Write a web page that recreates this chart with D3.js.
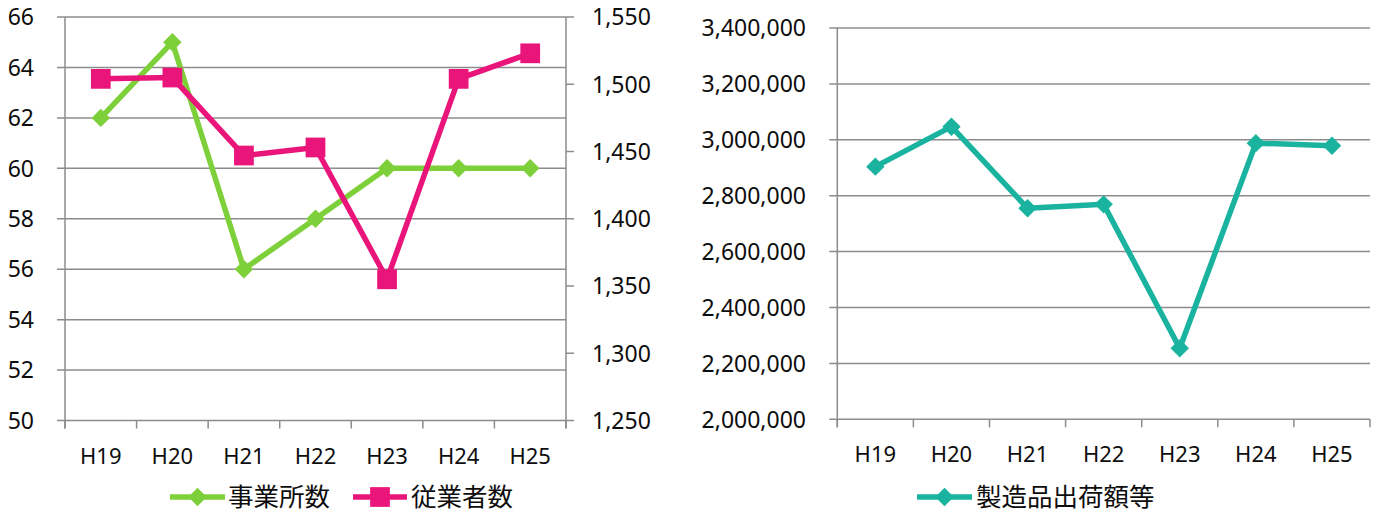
<!DOCTYPE html>
<html>
<head>
<meta charset="utf-8">
<script src="https://cdn.jsdelivr.net/npm/d3@7"></script>
<style>
  html, body { margin: 0; padding: 0; background: #ffffff; }
  svg { display: block; }
  text { font-family: "Noto Sans", "Open Sans", sans-serif; fill: #0d0d0d; }
  .cjk { font-family: "Noto Sans CJK JP", "Noto Sans", sans-serif; }
</style>
</head>
<body>
<svg id="chart" width="1381" height="518"></svg>
<script>
// ---- data ----
const categories = ["H19", "H20", "H21", "H22", "H23", "H24", "H25"];
const establishments = [62, 65, 56, 58, 60, 60, 60];            // 事業所数 (left axis)
const employees = [1504, 1505, 1447, 1453, 1355, 1504, 1523];   // 従業者数 (right axis)
const shipments = [2904000, 3047000, 2755000, 2769000, 2254000, 2988000, 2979000]; // 製造品出荷額等
const leftTicks = [50, 52, 54, 56, 58, 60, 62, 64, 66];
const rightTicks = [1250, 1300, 1350, 1400, 1450, 1500, 1550];
const shipTicks = [2000000, 2200000, 2400000, 2600000, 2800000, 3000000, 3200000, 3400000];
const seriesNames = ["事業所数", "従業者数", "製造品出荷額等"];
const colors = ["#7ED03A", "#EA157A", "#1AB39F"];

const svg = d3.select("#chart");
const gridColor = "#8c8c8c";
const fmt = d3.format(",");

function drawCategoryAxis(g, x, y0) {
  const [r0, r1] = x.range();
  const edges = categories.map(c => x(c)).concat([r1]);
  g.selectAll(".ctick").data(edges).join("line")
    .attr("x1", d => d).attr("x2", d => d)
    .attr("y1", y0).attr("y2", y0 + 8)
    .attr("stroke", gridColor).attr("stroke-width", 1.5);
  g.selectAll(".clabel").data(categories).join("text")
    .attr("x", d => x(d) + x.bandwidth() / 2)
    .attr("y", y0 + 43)
    .attr("text-anchor", "middle")
    .attr("font-size", 22)
    .text(d => d);
}

function diamond(sel, cx, cy, size, color) {
  sel.append("path")
    .attr("d", d3.symbol().type(d3.symbolSquare).size(size)())
    .attr("transform", `translate(${cx},${cy}) rotate(45)`)
    .attr("fill", color);
}
function square(sel, cx, cy, size, color) {
  sel.append("path")
    .attr("d", d3.symbol().type(d3.symbolSquare).size(size)())
    .attr("transform", `translate(${cx},${cy})`)
    .attr("fill", color);
}

// ---- Left chart ----
{
  const L = 65, R = 566, T = 17, B = 420.5;
  const x = d3.scaleBand().domain(categories).range([L, R]).padding(0);
  const yL = d3.scaleLinear().domain([50, 66]).range([B, T]);
  const yR = d3.scaleLinear().domain([1250, 1550]).range([B, T]);
  const g = svg.append("g");

  g.selectAll(".grid").data(leftTicks).join("line")
    .attr("x1", L - 8).attr("x2", R)
    .attr("y1", d => yL(d)).attr("y2", d => yL(d))
    .attr("stroke", gridColor).attr("stroke-width", 1.5);
  g.append("line").attr("x1", L).attr("x2", L).attr("y1", T).attr("y2", B + 8)
    .attr("stroke", gridColor).attr("stroke-width", 1.5);
  g.append("line").attr("x1", R).attr("x2", R).attr("y1", T).attr("y2", B + 8)
    .attr("stroke", gridColor).attr("stroke-width", 1.5);
  g.selectAll(".rtick").data(rightTicks).join("line")
    .attr("x1", R).attr("x2", R + 8)
    .attr("y1", d => yR(d)).attr("y2", d => yR(d))
    .attr("stroke", gridColor).attr("stroke-width", 1.5);
  g.selectAll(".llabel").data(leftTicks).join("text")
    .attr("x", 34).attr("y", d => yL(d)).attr("dy", "0.36em")
    .attr("text-anchor", "end").attr("font-size", 23)
    .text(d => d);
  g.selectAll(".rlabel").data(rightTicks).join("text")
    .attr("x", 592).attr("y", d => yR(d)).attr("dy", "0.36em")
    .attr("text-anchor", "start").attr("font-size", 23)
    .text(d => fmt(d));
  drawCategoryAxis(g, x, B);

  const cx = c => x(c) + x.bandwidth() / 2;
  const lineG = d3.line().x((d, i) => cx(categories[i])).y(d => yL(d));
  g.append("path").attr("d", lineG(establishments)).attr("fill", "none")
    .attr("stroke", colors[0]).attr("stroke-width", 5.5).attr("stroke-linejoin", "round");
  establishments.forEach((v, i) => diamond(g, cx(categories[i]), yL(v), 170, colors[0]));
  const lineP = d3.line().x((d, i) => cx(categories[i])).y(d => yR(d));
  g.append("path").attr("d", lineP(employees)).attr("fill", "none")
    .attr("stroke", colors[1]).attr("stroke-width", 5.5).attr("stroke-linejoin", "round");
  employees.forEach((v, i) => square(g, cx(categories[i]), yR(v), 390, colors[1]));

  const ly = 497;
  const lg = g.append("g");
  lg.append("line").attr("x1", 170).attr("x2", 225).attr("y1", ly).attr("y2", ly)
    .attr("stroke", colors[0]).attr("stroke-width", 5.5);
  diamond(lg, 197.5, ly, 170, colors[0]);
  lg.append("text").attr("class", "cjk").attr("x", 228).attr("y", ly).attr("dy", "0.36em")
    .attr("font-size", 25.5).text(seriesNames[0]);
  lg.append("line").attr("x1", 353).attr("x2", 407).attr("y1", ly).attr("y2", ly)
    .attr("stroke", colors[1]).attr("stroke-width", 5.5);
  square(lg, 380, ly, 390, colors[1]);
  lg.append("text").attr("class", "cjk").attr("x", 411).attr("y", ly).attr("dy", "0.36em")
    .attr("font-size", 25.5).text(seriesNames[1]);
}

// ---- Right chart ----
{
  const L = 837.3, R = 1370, T = 28, B = 419.3;
  const x = d3.scaleBand().domain(categories).range([L, R]).padding(0);
  const y = d3.scaleLinear().domain([2000000, 3400000]).range([B, T]);
  const g = svg.append("g");

  g.selectAll(".grid").data(shipTicks).join("line")
    .attr("x1", L - 8).attr("x2", R)
    .attr("y1", d => y(d)).attr("y2", d => y(d))
    .attr("stroke", gridColor).attr("stroke-width", 1.5);
  g.append("line").attr("x1", L).attr("x2", L).attr("y1", T).attr("y2", B + 8)
    .attr("stroke", gridColor).attr("stroke-width", 1.5);
  g.selectAll(".llabel").data(shipTicks).join("text")
    .attr("x", 806).attr("y", d => y(d)).attr("dy", "0.36em")
    .attr("text-anchor", "end").attr("font-size", 23)
    .text(d => fmt(d));
  drawCategoryAxis(g, x, B);

  const cx = c => x(c) + x.bandwidth() / 2;
  const line = d3.line().x((d, i) => cx(categories[i])).y(d => y(d));
  g.append("path").attr("d", line(shipments)).attr("fill", "none")
    .attr("stroke", colors[2]).attr("stroke-width", 5.5).attr("stroke-linejoin", "round");
  shipments.forEach((v, i) => diamond(g, cx(categories[i]), y(v), 170, colors[2]));

  const ly = 497;
  g.append("line").attr("x1", 917).attr("x2", 972).attr("y1", ly).attr("y2", ly)
    .attr("stroke", colors[2]).attr("stroke-width", 5.5);
  diamond(g, 944.5, ly, 170, colors[2]);
  g.append("text").attr("class", "cjk").attr("x", 976).attr("y", ly).attr("dy", "0.36em")
    .attr("font-size", 25.5).text(seriesNames[2]);
}
</script>
</body>
</html>
